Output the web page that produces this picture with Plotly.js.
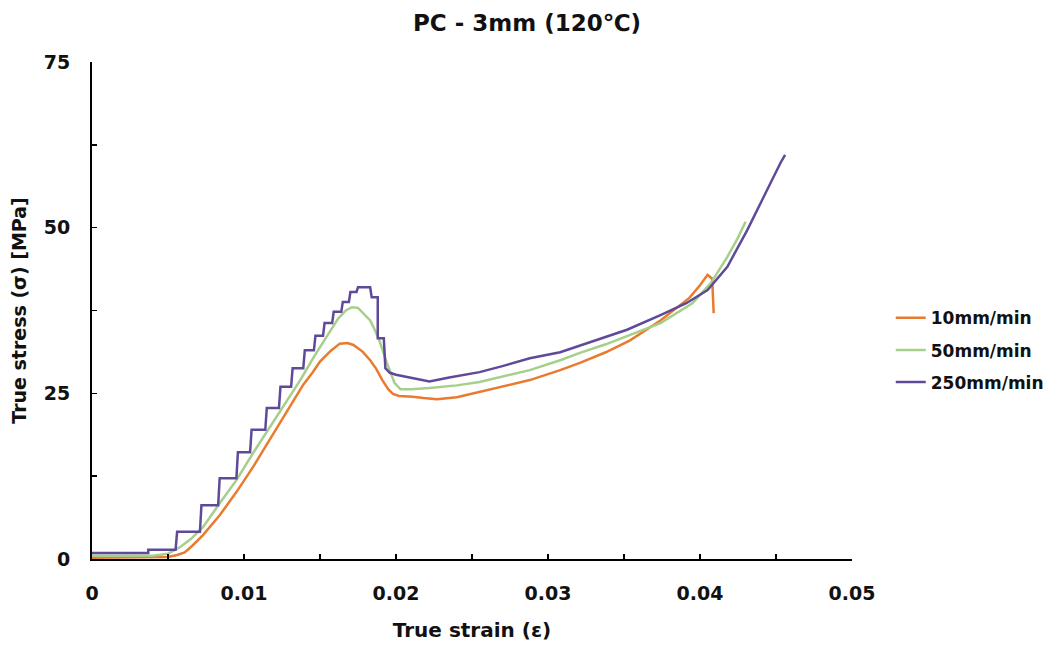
<!DOCTYPE html>
<html>
<head>
<meta charset="utf-8">
<script src="https://cdn.plot.ly/plotly-3.0.1.min.js"></script>
<style>html,body{margin:0;padding:0;background:#fff;}</style>
</head>
<body>
<div id="chart" style="width:1054px;height:646px;"></div>
<script>
const seriesNames = ["10mm/min", "50mm/min", "250mm/min"];

const strain10 = [0,0.004,0.0050,0.0056,0.0061,0.0066,0.0073,0.0084,0.0095,0.0106,0.0117,0.0128,0.0139,0.0145,0.0150,0.0157,0.0163,0.0168,0.0172,0.0178,0.0183,0.0187,0.0191,0.0195,0.0198,0.0202,0.0211,0.0218,0.0227,0.0240,0.0255,0.0270,0.0288,0.0308,0.0321,0.0338,0.0354,0.0374,0.0385,0.0393,0.0400,0.0405,0.0408,0.0409];
const stress10 = [0.2,0.2,0.3,0.6,1.0,2.0,3.6,6.6,10.1,13.9,18.0,22.0,26.3,28.1,29.8,31.4,32.5,32.6,32.3,31.3,30.0,28.7,27.0,25.6,24.9,24.6,24.5,24.3,24.1,24.4,25.2,26.0,27.0,28.5,29.6,31.2,33.0,36.0,37.9,39.4,41.3,42.9,42.3,37.1];

const strain50 = [0,0.004,0.0050,0.0058,0.0065,0.0073,0.0084,0.0095,0.0106,0.0117,0.0126,0.0137,0.0146,0.0155,0.0162,0.0167,0.0171,0.0175,0.0179,0.0183,0.0186,0.0189,0.0194,0.0199,0.0203,0.0210,0.0222,0.0240,0.0255,0.0270,0.0288,0.0308,0.0321,0.0338,0.0354,0.0374,0.0395,0.0407,0.0418,0.0425,0.0430];
const stress50 = [0.5,0.5,0.8,1.8,3.0,4.8,8.4,11.9,16.0,19.9,22.9,27.0,30.5,33.8,36.3,37.5,38.0,37.9,37.0,36.0,34.6,33.0,29.6,26.6,25.6,25.6,25.8,26.2,26.7,27.5,28.5,30.0,31.1,32.4,33.8,35.6,38.6,41.6,45.6,48.5,50.9];

const strain250 = [0,0.0037,0.0037,0.0055,0.0056,0.0071,0.0072,0.0083,0.0084,0.0095,0.0096,0.0104,0.0105,0.0114,0.0115,0.0123,0.0124,0.0131,0.0132,0.0139,0.0140,0.0146,0.0147,0.0152,0.0153,0.0158,0.0159,0.0164,0.0165,0.0169,0.0170,0.0174,0.0175,0.0183,0.0184,0.0188,0.0188,0.0192,0.0193,0.0196,0.0200,0.0210,0.0222,0.0235,0.0255,0.0270,0.0288,0.0308,0.0321,0.0330,0.0352,0.0374,0.0391,0.0405,0.0418,0.0431,0.0444,0.0453,0.0456];
const stress250 = [0.9,0.9,1.4,1.4,4.1,4.1,8.1,8.1,12.2,12.2,16.1,16.1,19.5,19.5,22.8,22.8,26.0,26.0,28.8,28.8,31.5,31.5,33.7,33.7,35.6,35.6,37.3,37.3,38.8,38.8,40.3,40.3,41.0,41.0,39.5,39.5,33.3,33.3,28.8,28.1,27.8,27.3,26.8,27.4,28.2,29.1,30.3,31.2,32.2,32.9,34.6,36.8,38.6,40.6,44.1,49.6,55.7,59.8,61.0];

const xTickVals = [0,0.01,0.02,0.03,0.04,0.05];
const xTickText = ["0","0.01","0.02","0.03","0.04","0.05"];
const yTickVals = [0,25,50,75];
const yTickText = ["0","25","50","75"];

const colors = ["#E97B2E", "#A6CF8A", "#5E4A98"];
const fam = "DejaVu Sans, Verdana, sans-serif";

const traces = [
  {x: strain10, y: stress10, name: seriesNames[0]},
  {x: strain50, y: stress50, name: seriesNames[1]},
  {x: strain250, y: stress250, name: seriesNames[2]}
].map((t, i) => Object.assign(t, {type: "scatter", mode: "lines", legendgroup: "g" + i, line: {color: colors[i], width: 2.5}}));

const layout = {
  width: 1054, height: 646,
  margin: {l: 92, r: 202, t: 62, b: 87, autoexpand: false},
  paper_bgcolor: "#fff", plot_bgcolor: "#fff",
  title: {text: "<b>PC - 3mm (120℃)</b>", font: {family: fam, size: 23, color: "#111"}, x: 0.5, xanchor: "center", y: 0.965, yanchor: "middle"},
  xaxis: {
    range: [0, 0.05], tickvals: xTickVals, ticktext: xTickText,
    showgrid: false, zeroline: false, showline: true, linecolor: "#000", linewidth: 2,
    ticks: "inside", ticklen: 5, tickwidth: 1.5, tickcolor: "#000",
    minor: {dtick: 0.005, ticks: "inside", ticklen: 5, tickwidth: 1.5, tickcolor: "#000"},
    ticklabelstandoff: 16,
    tickfont: {family: fam, size: 19, color: "#111", weight: "bold"},
    title: {text: "<b>True strain (ε)</b>", font: {family: fam, size: 20, color: "#111"}, standoff: 20}
  },
  yaxis: {
    range: [0, 75], tickvals: yTickVals, ticktext: yTickText,
    showgrid: false, zeroline: false, showline: true, linecolor: "#000", linewidth: 2,
    ticks: "inside", ticklen: 5, tickwidth: 1.5, tickcolor: "#000",
    minor: {dtick: 12.5, ticks: "inside", ticklen: 5, tickwidth: 1.5, tickcolor: "#000"},
    ticklabelstandoff: 16,
    tickfont: {family: fam, size: 19, color: "#111", weight: "bold"},
    title: {text: "<b>True stress (σ) [MPa]</b>", font: {family: fam, size: 19, color: "#111"}, standoff: 12}
  },
  showlegend: true,
  legend: {x: 1.051, xanchor: "left", y: 0.42, yanchor: "middle", font: {family: fam, size: 17, color: "#111", weight: "bold"}, tracegroupgap: 7, itemwidth: 30, bgcolor: "rgba(0,0,0,0)"}
};

Plotly.newPlot("chart", traces, layout, {displayModeBar: false, staticPlot: true});
</script>
</body>
</html>
